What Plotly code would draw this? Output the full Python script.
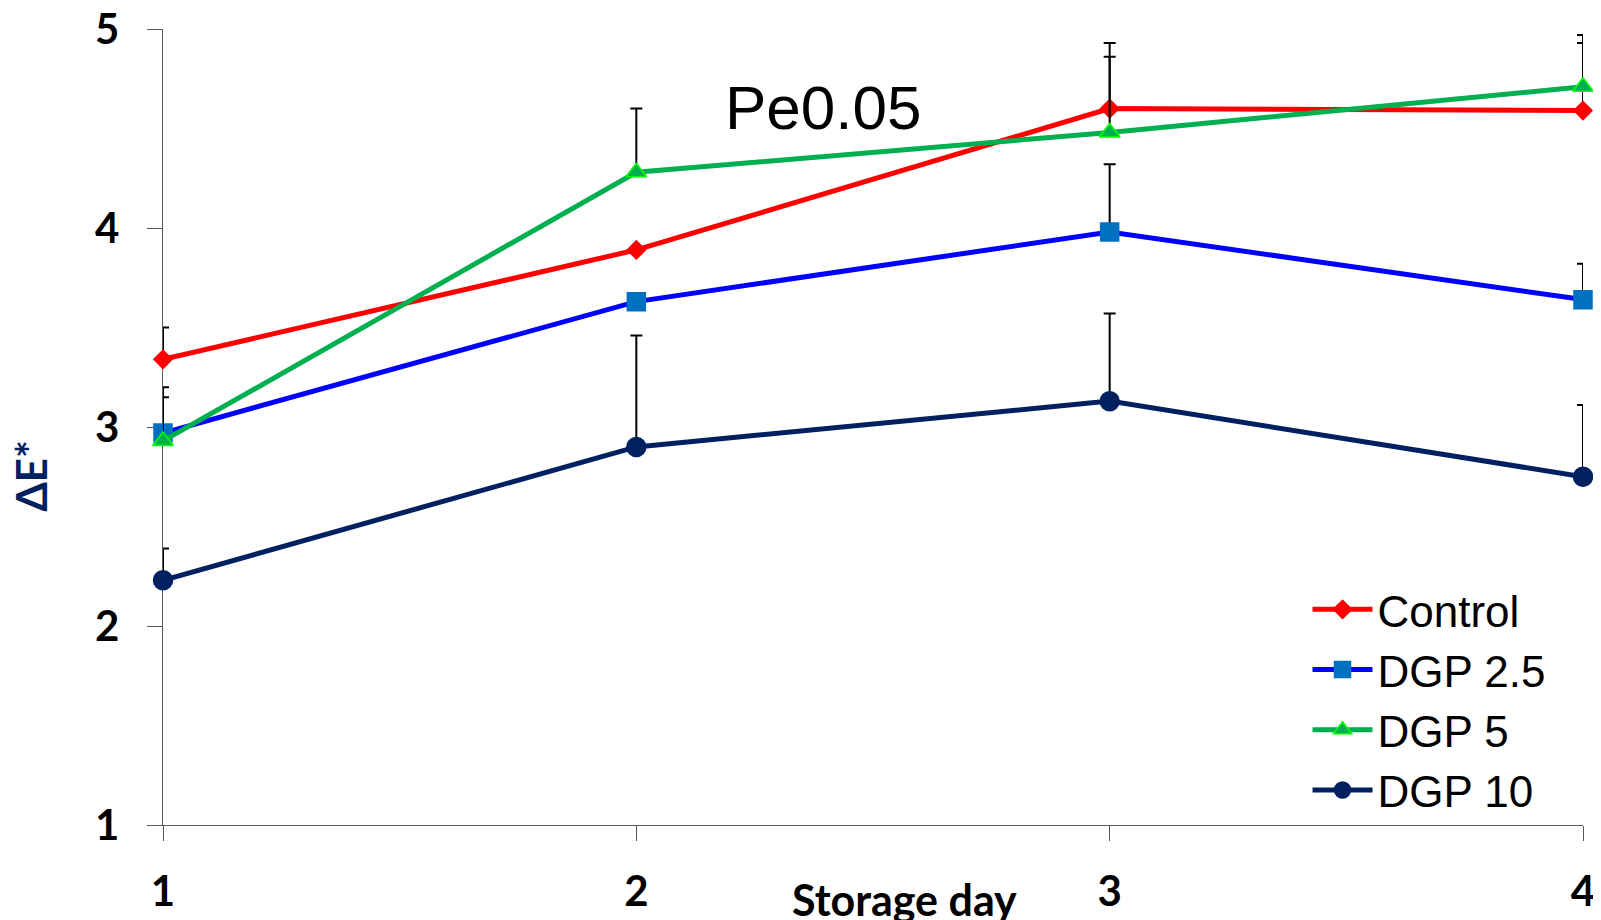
import plotly.graph_objects as go

days = [1, 2, 3, 4]
series_names = ["Control", "DGP 2.5", "DGP 5", "DGP 10"]
control = [3.34, 3.89, 4.60, 4.59]
dgp25 = [2.97, 3.63, 3.98, 3.64]
dgp5 = [2.93, 4.28, 4.48, 4.71]
dgp10 = [2.23, 2.90, 3.13, 2.75]
err_control = [0.16, None, 0.33, 0.34]
err_dgp25 = [0.23, None, 0.34, 0.18]
err_dgp5 = [0.22, 0.32, 0.38, 0.26]
err_dgp10 = [0.16, 0.56, 0.44, 0.36]
y_ticks = [1, 2, 3, 4, 5]
x_ticks = [1, 2, 3, 4]

# page body has an 8px margin, so the figure is made 8px smaller
W, H = 1593, 912
L, R, T, B = 155, 18, 21, 95

styles = [
    dict(line="#FF0000", fill="#FF0000", edge="#FF0000", symbol="diamond", size=14),
    dict(line="#0000FF", fill="#0070C0", edge="#0070C0", symbol="square", size=18),
    dict(line="#00B050", fill="#00B050", edge="#00FF00", symbol="triangle-up", size=18),
    dict(line="#002060", fill="#002060", edge="#002060", symbol="circle", size=19),
]
values = [control, dgp25, dgp5, dgp10]
errors = [err_control, err_dgp25, err_dgp5, err_dgp10]

fig = go.Figure()
for name, vals, errs, st in zip(series_names, values, errors, styles):
    fig.add_trace(go.Scatter(
        x=days, y=vals, name=name, mode="lines+markers",
        line=dict(color=st["line"], width=5),
        marker=dict(symbol=st["symbol"], size=st["size"], color=st["fill"],
                    line=dict(color=st["edge"], width=1.5)),
        error_y=dict(type="data", array=[e if e is not None else float("nan") for e in errs],
                     symmetric=False, arrayminus=[0, 0, 0, 0],
                     color="black", thickness=2, width=6),
        cliponaxis=False,
    ))

axis_font = dict(family="Lato", size=42, color="black", weight="bold")

fig.update_layout(
    width=W, height=H,
    margin=dict(l=L, r=R, t=T, b=B, autoexpand=False),
    paper_bgcolor="white", plot_bgcolor="white",
    showlegend=True,
    legend=dict(x=0.806, y=0.315, xanchor="left", yanchor="top",
                font=dict(family="Liberation Sans", size=44, color="black"),
                bgcolor="rgba(0,0,0,0)", itemwidth=60, tracegroupgap=0),
    xaxis=dict(range=[1, 4], tickvals=x_ticks, ticktext=[str(t) for t in x_ticks],
               showgrid=False, zeroline=False, showline=True, linecolor="#595959",
               linewidth=1.3, ticks="outside", ticklen=15, tickcolor="#595959",
               tickwidth=1.3, tickfont=axis_font, ticklabelstandoff=14,
               ticklabeloverflow="allow",
               layer="below traces", automargin=False),
    yaxis=dict(range=[1, 5], tickvals=y_ticks, ticktext=[str(t) for t in y_ticks],
               showgrid=False, zeroline=False, showline=True, linecolor="#595959",
               linewidth=1.3, ticks="outside", ticklen=15, tickcolor="#595959",
               tickwidth=1.3, tickfont=axis_font, ticklabelstandoff=19,
               ticklabeloverflow="allow",
               layer="below traces", automargin=False),
    annotations=[
        dict(text="Storage day", xref="paper", yref="paper", x=0.5225, y=-0.094,
             xanchor="center", yanchor="middle", showarrow=False,
             font=dict(family="Lato", size=43, color="black", weight="bold")),
        dict(text="ΔE*", xref="paper", yref="paper", x=-0.093, y=0.439,
             xanchor="center", yanchor="middle", showarrow=False, textangle=-90,
             font=dict(family="Lato", size=42, color="#002060", weight="bold")),
        dict(text="Pe0.05", xref="paper", yref="paper", x=0.4648, y=0.901,
             xanchor="center", yanchor="middle", showarrow=False,
             font=dict(family="Liberation Sans", size=62, color="black")),
    ],
)

fig.write_html("out.html")
